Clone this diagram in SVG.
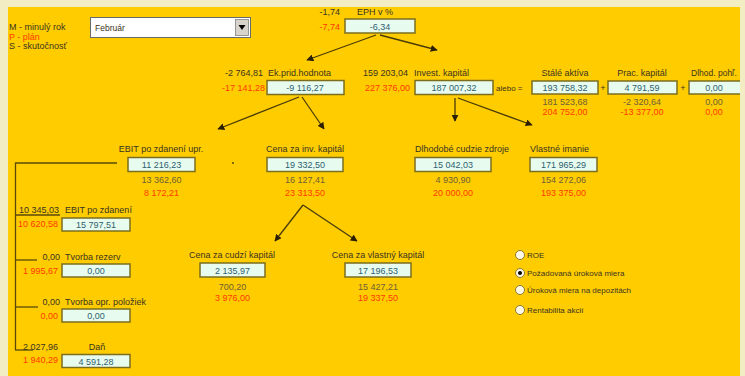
<svg xmlns="http://www.w3.org/2000/svg" width="745" height="376" viewBox="0 0 745 376">
<defs>
<marker id="ah" viewBox="0 0 10 10" refX="9" refY="5" markerWidth="7" markerHeight="7" orient="auto" markerUnits="userSpaceOnUse">
<path d="M0,0 L10,5 L0,10 z" fill="#2a2000"/>
</marker>
<style>
text{font-family:"Liberation Sans",Arial,sans-serif;font-size:9px;fill:#3a3420}
.r{fill:#ff3a00}
.d{fill:#6e5e3a}
.c{text-anchor:middle}
.e{text-anchor:end}
.bx{fill:#e8fbef;stroke:#7a6e1e;stroke-width:1.5}
.bv{fill:#2e5f70;text-anchor:middle}
.ln{stroke:#5a4a08;stroke-width:1.3;fill:none}
.ar{stroke:#4a3c08;stroke-width:1.3;fill:none;marker-end:url(#ah)}
.rb{fill:#fffbe8;stroke:#8a7a30;stroke-width:1}
</style>
</defs>
<rect width="745" height="376" fill="#f3edc3"/>
<rect x="8" y="7" width="732" height="369" fill="#ffcc00"/>

<g id="legend">
<text x="9" y="30">M - minulý rok</text>
<text x="9" y="39.5" class="r">P - plán</text>
<text x="9" y="49">S - skutočnosť</text>
</g>

<g id="dropdown">
<rect x="90.5" y="17.5" width="160" height="20" fill="#ffffff" stroke="#6a6a6a" stroke-width="1"/>
<rect x="235.5" y="19.5" width="13" height="16" fill="#d8d4cc" stroke="#808080" stroke-width="0.8"/>
<path d="M238.5,25 L245.5,25 L242,30 z" fill="#000"/>
<text x="95" y="31" style="font-size:8.5px">Február</text>
</g>

<g id="connectors">
<line class="ar" x1="376" y1="35" x2="307" y2="60"/>
<line class="ar" x1="380" y1="35" x2="437" y2="50"/>
<line class="ar" x1="299" y1="97" x2="218" y2="129"/>
<line class="ar" x1="302" y1="97" x2="324" y2="129"/>
<line class="ar" x1="455" y1="98" x2="455" y2="121"/>
<line class="ar" x1="458" y1="98" x2="532" y2="125"/>
<line class="ar" x1="303" y1="205" x2="275" y2="241"/>
<line class="ar" x1="303" y1="205" x2="357" y2="241"/>
<line class="ln" x1="336" y1="93" x2="341" y2="84"/>
<path class="ln" d="M117,163 H15.5 V350"/>
<line class="ln" x1="15" y1="215" x2="60" y2="215"/>
<line class="ln" x1="15" y1="260" x2="37" y2="260"/>
<line class="ln" x1="15" y1="307" x2="38" y2="307"/>
<line class="ln" x1="15" y1="350" x2="33" y2="350"/>
<circle cx="233" cy="163" r="1" fill="#5a4a08"/>
</g>

<g id="eph">
<text x="340" y="15" class="e">-1,74</text>
<text x="357" y="15">EPH v %</text>
<text x="340" y="29.5" class="r e">-7,74</text>
<rect class="bx" x="345" y="19" width="70" height="14"/>
<text x="380" y="29.5" class="bv">-6,34</text>
</g>

<g id="ekph">
<text x="263" y="76" class="e">-2 764,81</text>
<text x="268" y="76">Ek.prid.hodnota</text>
<text x="265" y="91" class="r e">-17 141,28</text>
<rect class="bx" x="267" y="80.5" width="77" height="14"/>
<text x="305" y="91" class="bv">-9 116,27</text>
</g>

<g id="invkap">
<text x="408" y="76" class="e">159 203,04</text>
<text x="414" y="76">Invest. kapitál</text>
<text x="410" y="91" class="r e">227 376,00</text>
<rect class="bx" x="415" y="80.5" width="78" height="14"/>
<text x="454" y="91" class="bv">187 007,32</text>
<text x="496" y="91" style="font-size:8px">alebo =</text>
</g>

<g id="stale">
<text x="565" y="76" class="c">Stálé aktíva</text>
<rect class="bx" x="532" y="81" width="66" height="13"/>
<text x="565" y="91" class="bv">193 758,32</text>
<text x="565" y="105" class="d c">181 523,68</text>
<text x="565" y="114.5" class="r c">204 752,00</text>
<text x="603" y="91" class="c">+</text>
</g>

<g id="prac">
<text x="642" y="76" class="c">Prac. kapitál</text>
<rect class="bx" x="608" y="81" width="69" height="13"/>
<text x="642" y="91" class="bv">4 791,59</text>
<text x="642" y="105" class="d c">-2 320,64</text>
<text x="642" y="114.5" class="r c">-13 377,00</text>
<text x="683" y="91" class="c">+</text>
</g>

<g id="dlhpoh">
<text x="691" y="76" style="font-size:8.5px">Dlhod. pohľ.</text>
<rect class="bx" x="689" y="81" width="60" height="13"/>
<text x="714" y="91" class="bv">0,00</text>
<text x="714" y="105" class="d c">0,00</text>
<text x="714" y="114.5" class="r c">0,00</text>
</g>

<g id="ebitupr">
<text x="161" y="152" class="c">EBIT po zdanení upr.</text>
<rect class="bx" x="128" y="157.5" width="67" height="14"/>
<text x="161.5" y="168" class="bv">11 216,23</text>
<text x="161.5" y="183" class="d c">13 362,60</text>
<text x="161.5" y="196" class="r c">8 172,21</text>
</g>

<g id="cenainv">
<text x="305" y="152" class="c">Cena za inv. kapitál</text>
<rect class="bx" x="267" y="157.5" width="76" height="14"/>
<text x="305" y="168" class="bv">19 332,50</text>
<text x="305" y="183" class="d c">16 127,41</text>
<text x="305" y="196" class="r c">23 313,50</text>
</g>

<g id="dlhcz">
<text x="415" y="152">Dlhodobé cudzie zdroje</text>
<rect class="bx" x="415" y="157.5" width="76" height="14"/>
<text x="453" y="168" class="bv">15 042,03</text>
<text x="453" y="183" class="d c">4 930,90</text>
<text x="453" y="196" class="r c">20 000,00</text>
</g>

<g id="vlim">
<text x="530" y="152">Vlastné imanie</text>
<rect class="bx" x="530" y="157.5" width="67" height="14"/>
<text x="563.5" y="168" class="bv">171 965,29</text>
<text x="563.5" y="183" class="d c">154 272,06</text>
<text x="563.5" y="196" class="r c">193 375,00</text>
</g>

<g id="cenacudzi">
<text x="232" y="258" class="c">Cena za cudzí kapitál</text>
<rect class="bx" x="200" y="263" width="65" height="14"/>
<text x="232.5" y="273.5" class="bv">2 135,97</text>
<text x="232.5" y="290" class="d c">700,20</text>
<text x="232.5" y="301" class="r c">3 976,00</text>
</g>

<g id="cenavl">
<text x="378" y="258" class="c">Cena za vlastný kapitál</text>
<rect class="bx" x="345" y="263" width="66" height="14"/>
<text x="378" y="273.5" class="bv">17 196,53</text>
<text x="378" y="290" class="d c">15 427,21</text>
<text x="378" y="301" class="r c">19 337,50</text>
</g>

<g id="ebit">
<text x="59" y="213" class="e">10 345,03</text>
<text x="65" y="213">EBIT po zdanení</text>
<text x="58" y="227" class="r e">10 620,58</text>
<rect class="bx" x="62" y="218" width="68" height="13"/>
<text x="96" y="228" class="bv">15 797,51</text>
</g>

<g id="rezerv">
<text x="60" y="260" class="e">0,00</text>
<text x="65" y="260">Tvorba rezerv</text>
<text x="58" y="273.5" class="r e">1 995,67</text>
<rect class="bx" x="62" y="264" width="68" height="13"/>
<text x="96" y="274" class="bv">0,00</text>
</g>

<g id="opr">
<text x="60" y="305" class="e">0,00</text>
<text x="65" y="305">Tvorba opr. položiek</text>
<text x="58" y="318.5" class="r e">0,00</text>
<rect class="bx" x="62" y="309" width="68" height="13"/>
<text x="96" y="319" class="bv">0,00</text>
</g>

<g id="dan">
<text x="58" y="350" class="e">2 027,96</text>
<text x="97" y="350" class="c">Daň</text>
<text x="58" y="363" class="r e">1 940,29</text>
<rect class="bx" x="62" y="354.5" width="68" height="13"/>
<text x="96" y="364.5" class="bv">4 591,28</text>
</g>

<g id="radios">
<circle class="rb" cx="520" cy="255" r="4.5"/>
<text x="527" y="258" style="font-size:8px">ROE</text>
<circle class="rb" cx="520" cy="273" r="4.5"/>
<circle cx="520" cy="273" r="2" fill="#000"/>
<text x="527" y="276" style="font-size:8px">Požadovaná úroková miera</text>
<circle class="rb" cx="520" cy="290" r="4.5"/>
<text x="527" y="293" style="font-size:8px">Úroková miera na depozitách</text>
<circle class="rb" cx="520" cy="310" r="4.5"/>
<text x="527" y="313" style="font-size:8px">Rentabilita akcií</text>
</g>

<rect x="740" y="0" width="5" height="376" fill="#f3edc3"/>
</svg>
